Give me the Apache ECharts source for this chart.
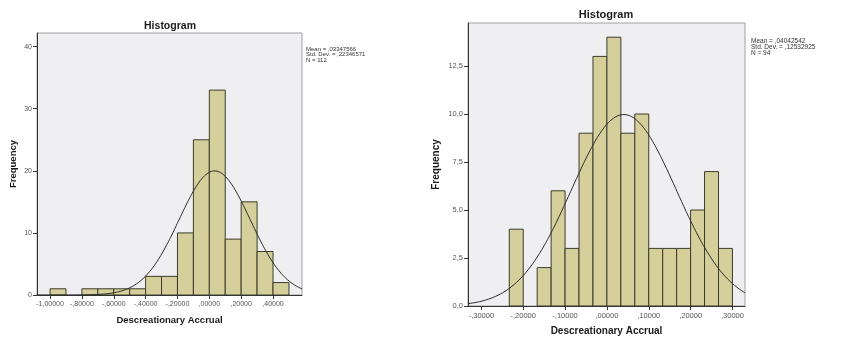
<!DOCTYPE html>
<html>
<head>
<meta charset="utf-8">
<title>Histogram</title>
<script src="https://cdn.jsdelivr.net/npm/echarts@6/dist/echarts.min.js"></script>
<style>
  html, body { margin: 0; padding: 0; background: #ffffff; }
  #chart { width: 855px; height: 347px; }
</style>
</head>
<body>
<div id="chart"></div>
<script>
// ---- Left panel: sample of 112 firms, bins of width 0,1 ----
const leftBinLower = [-1.0, -0.9, -0.8, -0.7, -0.6, -0.5, -0.4, -0.3, -0.2, -0.1, 0.0, 0.1, 0.2, 0.3, 0.4];
const leftBinUpper = [-0.9, -0.8, -0.7, -0.6, -0.5, -0.4, -0.3, -0.2, -0.1, 0.0, 0.1, 0.2, 0.3, 0.4, 0.5];
const leftCounts   = [1, 0, 1, 1, 1, 1, 3, 3, 10, 25, 33, 9, 15, 7, 2];
const leftXTicks   = [-1.0, -0.8, -0.6, -0.4, -0.2, 0.0, 0.2, 0.4];
const leftYTicks   = [0, 10, 20, 30, 40];
const leftMean = 0.03347566, leftSd = 0.22346571, leftN = 112, leftBinWidth = 0.1;

// ---- Right panel: sample of 94 firms, bins of width 1/30 ----
const rightBinLower = [-0.23333, -0.2, -0.16667, -0.13333, -0.1, -0.06667, -0.03333, 0.0, 0.03333, 0.06667, 0.1, 0.13333, 0.16667, 0.2, 0.23333, 0.26667];
const rightBinUpper = [-0.2, -0.16667, -0.13333, -0.1, -0.06667, -0.03333, 0.0, 0.03333, 0.06667, 0.1, 0.13333, 0.16667, 0.2, 0.23333, 0.26667, 0.3];
const rightCounts   = [4, 0, 2, 6, 3, 9, 13, 14, 9, 10, 3, 3, 3, 5, 7, 3];
const rightXTicks   = [-0.3, -0.2, -0.1, 0.0, 0.1, 0.2, 0.3];
const rightYTicks   = [0, 2.5, 5, 7.5, 10, 12.5];
const rightMean = 0.04042542, rightSd = 0.12532925, rightN = 94, rightBinWidth = 1 / 30;

const statLinesLeft  = ['Mean = ,03347566', 'Std. Dev. = ,22346571', 'N = 112'];
const statLinesRight = ['Mean = ,04042542', 'Std. Dev. = ,12532925', 'N = 94'];

// SPSS-style number with comma decimal and no leading zero: -,20000
function spssFixed(v, digits) {
  const neg = v < -1e-9;
  let [ip, fp] = Math.abs(v).toFixed(digits).split('.');
  if (ip === '0') ip = '';
  return (neg ? '-' : '') + ip + ',' + fp;
}

function binData(lower, upper, counts) {
  const out = [];
  counts.forEach((c, i) => { if (c > 0) out.push([lower[i], upper[i], c]); });
  return out;
}

// Normal overlay scaled to counts, defined by the stated mean, std. dev. and N
function normalCurve(mean, sd, n, width, xmin, xmax) {
  const pts = [];
  const steps = 240;
  for (let k = 0; k <= steps; k++) {
    const x = xmin + (xmax - xmin) * k / steps;
    const z = (x - mean) / sd;
    pts.push([x, n * width / (sd * Math.sqrt(2 * Math.PI)) * Math.exp(-0.5 * z * z)]);
  }
  return pts;
}

function renderBin(params, api) {
  const p0 = api.coord([api.value(0), api.value(2)]);
  const p1 = api.coord([api.value(1), 0]);
  return {
    type: 'rect',
    shape: { x: p0[0], y: p0[1], width: p1[0] - p0[0], height: p1[1] - p0[1] },
    style: { fill: '#d5d09b', stroke: '#3c3b2c', lineWidth: 1 }
  };
}

const FONT = '"Liberation Sans", Arial, sans-serif';
const LX = { min: -1.082, max: 0.582 }, LY = { min: 0, max: 42.2 };
const RX = { min: -0.332, max: 0.330 }, RY = { min: 0, max: 14.74 };

function xAxisCfg(gridIndex, range, ticks, fontSize, nameSize, nameGap) {
  return {
    type: 'value', gridIndex, min: range.min, max: range.max,
    name: 'Descreationary Accrual', nameLocation: 'middle', nameGap,
    nameTextStyle: { fontFamily: FONT, fontWeight: 'bold', fontSize: nameSize, color: '#1a1a1a' },
    axisLine: { show: true, onZero: false, lineStyle: { color: '#333', width: 1 } },
    axisTick: { show: true, length: 4, customValues: ticks, lineStyle: { color: '#333' } },
    axisLabel: { customValues: ticks, formatter: v => spssFixed(v, 5), fontFamily: FONT, fontSize, color: '#555', margin: 6 },
    splitLine: { show: false }
  };
}

function yAxisCfg(gridIndex, range, ticks, fmt, fontSize, nameSize, nameGap) {
  return {
    type: 'value', gridIndex, min: range.min, max: range.max,
    name: 'Frequency', nameLocation: 'middle', nameGap,
    nameTextStyle: { fontFamily: FONT, fontWeight: 'bold', fontSize: nameSize, color: '#1a1a1a' },
    axisLine: { show: true, onZero: false, lineStyle: { color: '#333', width: 1 } },
    axisTick: { show: true, length: 4, customValues: ticks, lineStyle: { color: '#333' } },
    axisLabel: { customValues: ticks, formatter: fmt, fontFamily: FONT, fontSize, color: '#555', margin: 5 },
    splitLine: { show: false }
  };
}

const chart = echarts.init(document.getElementById('chart'), null, { renderer: 'canvas' });

chart.setOption({
  backgroundColor: '#ffffff',
  animation: false,
  title: [
    { text: 'Histogram', left: 170, top: 21, padding: 0, textAlign: 'center',
      textStyle: { fontFamily: FONT, fontWeight: 'bold', fontSize: 10.5, color: '#1a1a1a' } },
    { text: 'Histogram', left: 606, top: 9, padding: 0, textAlign: 'center',
      textStyle: { fontFamily: FONT, fontWeight: 'bold', fontSize: 11, color: '#1a1a1a' } }
  ],
  grid: [
    { left: 37, top: 33, width: 265, height: 262, show: true,
      backgroundColor: '#efeff1', borderColor: '#a0a0a0', borderWidth: 1 },
    { left: 468, top: 23, width: 277, height: 283, show: true,
      backgroundColor: '#efeff1', borderColor: '#a0a0a0', borderWidth: 1 }
  ],
  xAxis: [
    xAxisCfg(0, LX, leftXTicks, 7, 9.5, 20),
    xAxisCfg(1, RX, rightXTicks, 7.5, 10, 20)
  ],
  yAxis: [
    yAxisCfg(0, LY, leftYTicks, v => String(v), 7, 9.5, 19),
    yAxisCfg(1, RY, rightYTicks, v => v.toFixed(1).replace('.', ','), 7.5, 10, 27)
  ],
  series: [
    { type: 'custom', xAxisIndex: 0, yAxisIndex: 0, renderItem: renderBin,
      data: binData(leftBinLower, leftBinUpper, leftCounts), clip: true, z: 2 },
    { type: 'line', xAxisIndex: 0, yAxisIndex: 0, showSymbol: false, smooth: false, clip: true,
      lineStyle: { color: '#2b2b2b', width: 1 }, z: 3,
      data: normalCurve(leftMean, leftSd, leftN, leftBinWidth, LX.min, LX.max) },
    { type: 'custom', xAxisIndex: 1, yAxisIndex: 1, renderItem: renderBin,
      data: binData(rightBinLower, rightBinUpper, rightCounts), clip: true, z: 2 },
    { type: 'line', xAxisIndex: 1, yAxisIndex: 1, showSymbol: false, smooth: false, clip: true,
      lineStyle: { color: '#2b2b2b', width: 1 }, z: 3,
      data: normalCurve(rightMean, rightSd, rightN, rightBinWidth, RX.min, RX.max) }
  ],
  graphic: [
    { type: 'text', left: 306, top: 46,
      style: { text: statLinesLeft.join('\n'), fontFamily: FONT, fontSize: 6, lineHeight: 5.5, fill: '#333' } },
    { type: 'text', left: 751, top: 38,
      style: { text: statLinesRight.join('\n'), fontFamily: FONT, fontSize: 6.5, lineHeight: 6, fill: '#333' } }
  ]
});
</script>
</body>
</html>
